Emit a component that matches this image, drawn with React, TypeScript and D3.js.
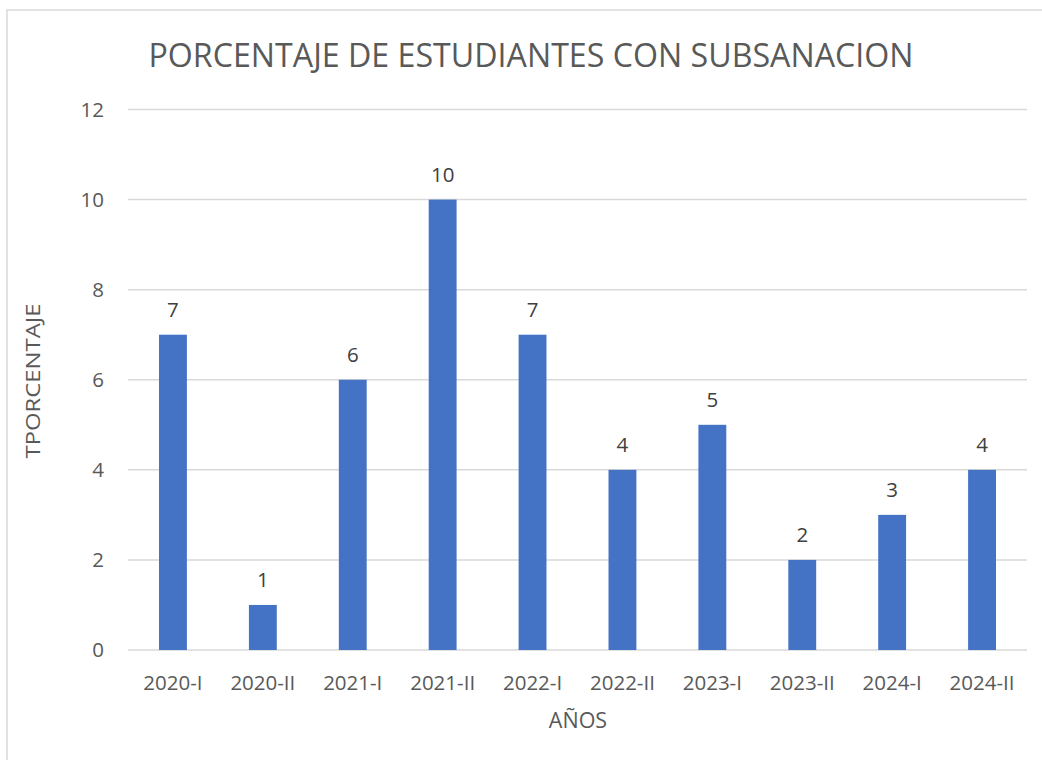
import React from "react";
import * as d3 from "d3";

const categories = ["2020-I", "2020-II", "2021-I", "2021-II", "2022-I", "2022-II", "2023-I", "2023-II", "2024-I", "2024-II"];
const values = [7, 1, 6, 10, 7, 4, 5, 2, 3, 4];
const yTicks = [0, 2, 4, 6, 8, 10, 12];
const title = "PORCENTAJE DE ESTUDIANTES CON SUBSANACION";
const xTitle = "AÑOS";
const yTitle = "TPORCENTAJE";

const W = 1042, H = 760;
const plot = { left: 128, right: 1027, top: 109.5, bottom: 650 };
const FONT = "'Open Sans', 'Liberation Sans', sans-serif";
const TXT = "#595959";

export default function App() {
  const x = d3.scaleBand<string>().domain(categories).range([plot.left, plot.right]).paddingInner(0.69).paddingOuter(0.345);
  const y = d3.scaleLinear().domain([0, 12]).range([plot.bottom, plot.top]);
  return (
    <svg width={W} height={H} style={{ position: "absolute", left: 0, top: 0, background: "#fff" }} fontFamily={FONT}>
      <rect x={7} y={10} width={1040} height={760} fill="#fff" stroke="#d9d9d9" strokeWidth={1.5} />
      <text x={531} y={67} textAnchor="middle" fontSize={32} fill={TXT} textLength={765} lengthAdjust="spacingAndGlyphs">{title}</text>
      {yTicks.map((t) => (
        <g key={t}>
          <line x1={plot.left} x2={plot.right} y1={y(t)} y2={y(t)} stroke="#d9d9d9" strokeWidth={1.5} />
          <text x={104} y={y(t)} dy="0.36em" textAnchor="end" fontSize={20.5} fill={TXT}>{t}</text>
        </g>
      ))}
      {categories.map((c, i) => (
        <g key={c}>
          <rect x={x(c)} y={y(values[i])} width={x.bandwidth()} height={y(0) - y(values[i])} fill="#4472C4" />
          <text x={(x(c) as number) + x.bandwidth() / 2} y={y(values[i]) - 18} textAnchor="middle" fontSize={20.5} fill="#404040">{values[i]}</text>
          <text x={(x(c) as number) + x.bandwidth() / 2} y={690} textAnchor="middle" fontSize={20.5} fill={TXT}>{c}</text>
        </g>
      ))}
      <text x={578} y={728} textAnchor="middle" fontSize={21.5} fill={TXT}>{xTitle}</text>
      <text transform={`translate(40,381) rotate(-90)`} textAnchor="middle" fontSize={20.5} fill={TXT} textLength={155} lengthAdjust="spacingAndGlyphs">{yTitle}</text>
    </svg>
  );
}
